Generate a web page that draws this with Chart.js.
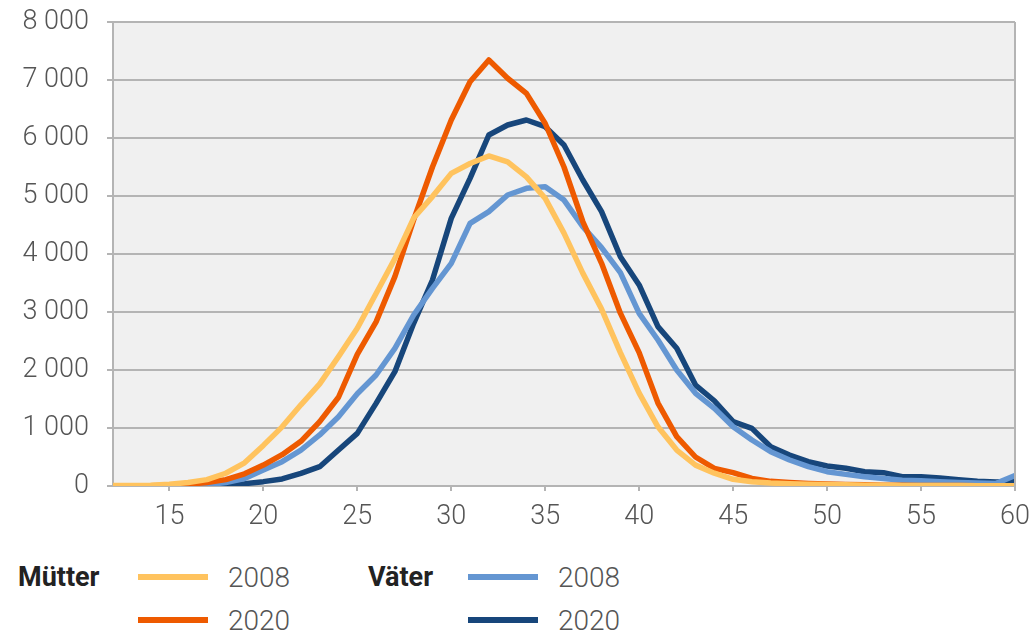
<!DOCTYPE html>
<html>
<head>
<meta charset="utf-8">
<script src="https://cdn.jsdelivr.net/npm/chart.js@4.4.1/dist/chart.umd.min.js"></script>
<style>
  html, body { margin:0; padding:0; background:#fff; }
  body { width:1033px; height:634px; overflow:hidden; font-family: Roboto, "Open Sans", sans-serif; }
  #wrap { position:relative; width:1033px; height:540px; }
  #legend { position:relative; width:1033px; height:94px; font-family: Roboto, sans-serif; }
  .grp { position:absolute; font-weight:700; font-size:27px; color:#222; line-height:30px; }
  .sw { position:absolute; height:6px; width:70px; }
  .lb { position:absolute; font-size:28px; font-weight:300; color:#555; line-height:30px; }
</style>
</head>
<body>
<div id="wrap"><canvas id="c" width="1033" height="540"></canvas></div>
<div id="legend"></div>
<script>
const ages = [12,13,14,15,16,17,18,19,20,21,22,23,24,25,26,27,28,29,30,31,32,33,34,35,36,37,38,39,40,41,42,43,44,45,46,47,48,49,50,51,52,53,54,55,56,57,58,59,60];
const xTicks = [15,20,25,30,35,40,45,50,55,60];
const yTicks = [0,1000,2000,3000,4000,5000,6000,7000,8000];

const muetter2008 = [10,10,15,30,60,110,220,400,700,1020,1400,1760,2230,2720,3320,3920,4620,4990,5390,5560,5690,5590,5330,4960,4360,3670,3050,2300,1600,1020,620,360,220,115,75,50,40,30,25,20,15,12,10,10,8,8,6,5,5];
const muetter2020 = [0,0,5,15,30,60,110,210,360,540,770,1110,1530,2270,2830,3610,4590,5500,6310,6970,7345,7030,6770,6250,5500,4560,3840,2980,2300,1430,850,500,305,230,132,80,60,45,35,25,20,15,12,10,8,8,6,5,5];
const vaeter2008 = [0,0,0,5,10,20,60,130,276,420,620,880,1195,1590,1914,2374,2948,3408,3839,4529,4730,5017,5132,5161,4930,4471,4110,3680,2977,2517,2000,1598,1340,1023,793,592,448,333,247,200,160,130,100,90,75,60,50,45,180];
const vaeter2020 = [0,0,0,5,10,15,25,40,75,121,218,333,620,908,1425,1971,2805,3552,4615,5305,6052,6224,6310,6195,5879,5276,4730,3954,3466,2747,2374,1741,1470,1109,994,678,534,419,345,305,247,230,161,161,140,110,80,70,80];

const seriesNames = ['Mütter 2008','Mütter 2020','Väter 2008','Väter 2020'];
const seriesColors = ['#FFC35E','#EE5A00','#6496D2','#17467B'];
const seriesValues = [muetter2008, muetter2020, vaeter2008, vaeter2020];

function fmt(v){ return String(v).replace(/\B(?=(\d{3})+(?!\d))/g, ' '); }

const bgPlugin = {
  id:'bg',
  beforeDraw(chart){
    const {ctx, chartArea:a} = chart;
    ctx.save();
    ctx.fillStyle = '#f0f0f0';
    ctx.fillRect(a.left, a.top, a.right-a.left, a.bottom-a.top);
    ctx.restore();
  },
  afterDatasetsDraw(chart){
    const {ctx, chartArea:a} = chart;
    ctx.save();
    ctx.strokeStyle = '#b4b4b4';
    ctx.lineWidth = 2;
    ctx.beginPath();
    ctx.moveTo(a.right, a.top); ctx.lineTo(a.right, a.bottom);
    ctx.stroke();
    ctx.restore();
  }
};

new Chart(document.getElementById('c'), {
  type:'line',
  data:{
    datasets: seriesValues.map((vals,i)=>({
      label: seriesNames[i],
      data: vals.map((v,j)=>({x:ages[j], y:v})),
      borderColor: seriesColors[i],
      backgroundColor: seriesColors[i],
      borderWidth: 5.5,
      pointRadius: 0,
      tension: 0,
      borderJoinStyle:'round',
      fill:false
    }))
  },
  options:{
    responsive:false,
    animation:false,
    layout:{ padding:{ left:0, right:18, top:22, bottom:0 } },
    plugins:{ legend:{display:false}, tooltip:{enabled:false} },
    scales:{
      x:{
        type:'linear', min:12, max:60,
        afterBuildTicks(s){ s.ticks = xTicks.map(v=>({value:v})); },
        afterFit(s){ s.height = 54; s.paddingLeft = 0; s.paddingRight = 0; },
        grid:{ drawOnChartArea:false, drawTicks:true, tickLength:5, color:'#b4b4b4', lineWidth:2 },
        border:{ display:true, color:'#b4b4b4', width:2 },
        ticks:{ color:'#555', padding:10, font:{ family:'Roboto', size:27, weight:300 }, maxRotation:0 }
      },
      y:{
        min:0, max:8000,
        afterBuildTicks(s){ s.ticks = yTicks.map(v=>({value:v})); },
        afterFit(s){ s.width = 113; s.paddingTop = 0; s.paddingBottom = 0; },
        grid:{ color:'#b4b4b4', lineWidth:2, tickLength:6 },
        border:{ display:true, color:'#b4b4b4', width:2 },
        ticks:{ color:'#555', padding:18, font:{ family:'Roboto', size:27, weight:300 }, callback:(v)=>fmt(v) }
      }
    }
  },
  plugins:[bgPlugin]
});

// legend
const leg = document.getElementById('legend');
const groups = [
  {name:'Mütter', x:18, items:[0,1], swX:138, lbX:228},
  {name:'Väter', x:368, items:[2,3], swX:468, lbX:558}
];
const rows = [37, 80];
groups.forEach(g=>{
  const t = document.createElement('div');
  t.className='grp'; t.textContent=g.name;
  t.style.left=g.x+'px'; t.style.top=(rows[0]-15)+'px';
  leg.appendChild(t);
  g.items.forEach((idx,r)=>{
    const sw=document.createElement('div');
    sw.className='sw'; sw.style.background=seriesColors[idx];
    sw.style.left=g.swX+'px'; sw.style.top=(rows[r]-3)+'px';
    leg.appendChild(sw);
    const lb=document.createElement('div');
    lb.className='lb'; lb.textContent=seriesNames[idx].split(' ')[1];
    lb.style.left=g.lbX+'px'; lb.style.top=(rows[r]-14)+'px';
    leg.appendChild(lb);
  });
});
</script>
</body>
</html>
